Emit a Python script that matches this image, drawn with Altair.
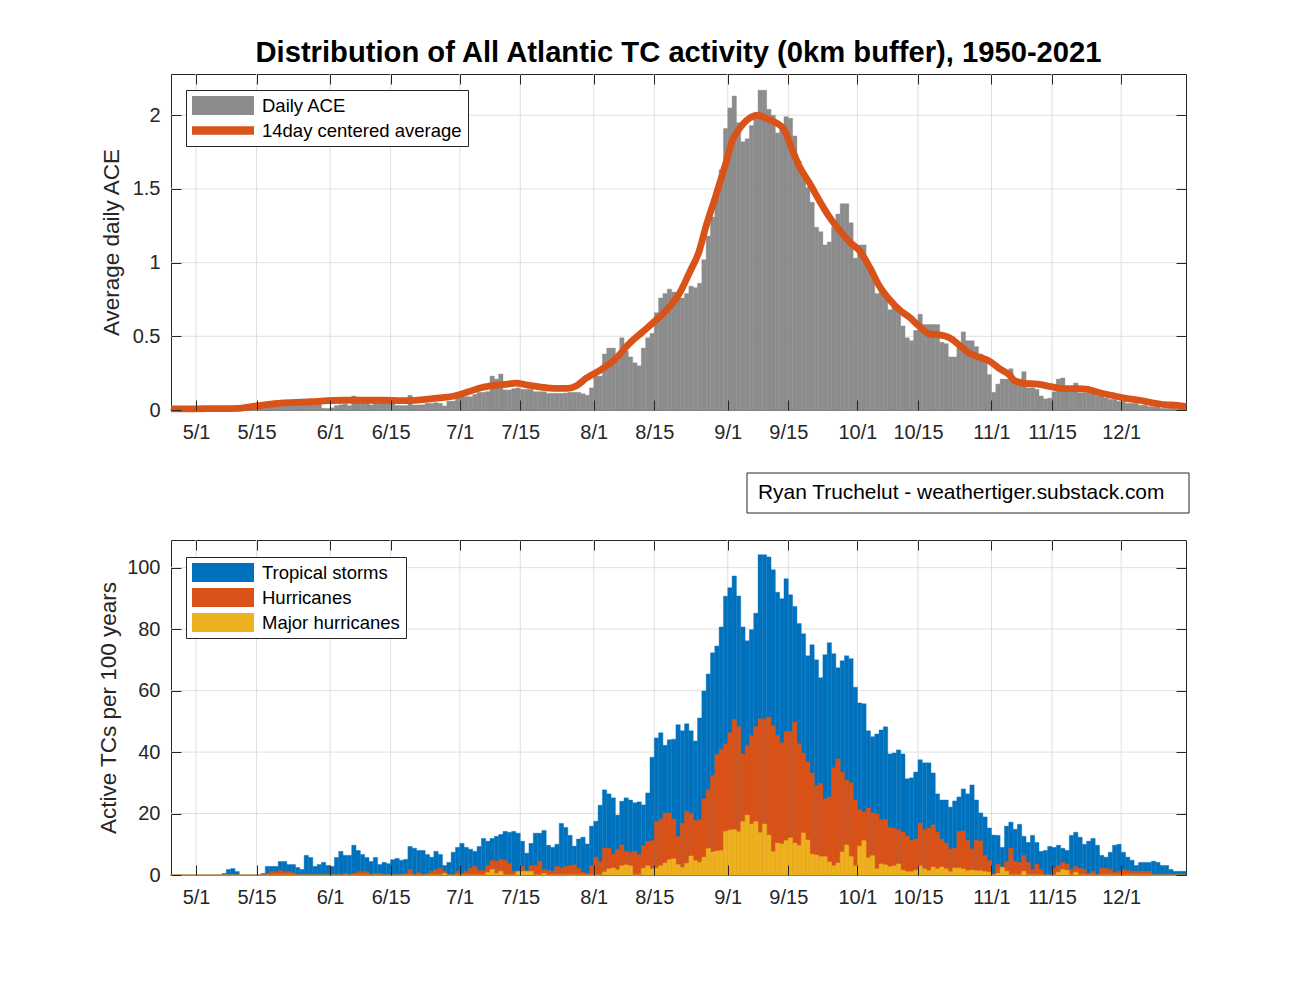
import altair as alt
import pandas as pd

FONT = "Liberation Sans"
INK = "#262626"
GRAY = "#8C8C8C"
BLUE = "#0072BD"
ORANGE = "#D95319"
YELLOW = "#EDB120"
GRID = "#DFDFDF"

TITLE = "Distribution of All Atlantic TC activity (0km buffer), 1950-2021"
CREDIT = "Ryan Truchelut - weathertiger.substack.com"

# first day-of-year of the daily bars (4/25)
first_doy = 115

# daily ACE, one value per day starting at first_doy (rows of 10 days)
ace = [
    0.005, 0.004, 0.006, 0.005, 0.003, 0.006, 0.008, 0.007, 0.010, 0.008,
    0.006, 0.010, 0.012, 0.015, 0.012, 0.008, 0.010, 0.015, 0.025, 0.030,
    0.035, 0.030, 0.040, 0.045, 0.060, 0.050, 0.055, 0.045, 0.050, 0.060,
    0.055, 0.070, 0.065, 0.050, 0.040, 0.012, 0.010, 0.015, 0.030, 0.035,
    0.040, 0.030, 0.095, 0.060, 0.075, 0.070, 0.035, 0.050, 0.065, 0.070,
    0.060, 0.050, 0.030, 0.030, 0.030, 0.100, 0.034, 0.034, 0.035, 0.045,
    0.045, 0.050, 0.045, 0.027, 0.060, 0.060, 0.085, 0.090, 0.090, 0.090,
    0.106, 0.120, 0.120, 0.125, 0.230, 0.210, 0.244, 0.136, 0.136, 0.145,
    0.150, 0.140, 0.140, 0.140, 0.124, 0.124, 0.124, 0.113, 0.113, 0.113,
    0.113, 0.115, 0.120, 0.120, 0.120, 0.110, 0.100, 0.150, 0.230, 0.230,
    0.38, 0.42, 0.42, 0.34, 0.49, 0.40, 0.36, 0.32, 0.30, 0.42,
    0.49, 0.52, 0.66, 0.76, 0.79, 0.82, 0.80, 0.76, 0.76, 0.79,
    0.84, 0.83, 0.86, 1.02, 1.18, 1.31, 1.50, 1.63, 1.91, 2.05,
    2.13, 1.95, 1.82, 1.84, 1.93, 2.01, 2.17, 2.17, 2.04, 2.00,
    1.88, 1.92, 1.99, 1.98, 1.86, 1.69, 1.58, 1.51, 1.41, 1.24,
    1.21, 1.12, 1.14, 1.24, 1.33, 1.40, 1.40, 1.27, 1.03, 1.12,
    1.12, 0.97, 0.93, 0.79, 0.82, 0.78, 0.68, 0.70, 0.68, 0.57,
    0.49, 0.47, 0.54, 0.65, 0.58, 0.58, 0.58, 0.58, 0.46, 0.45,
    0.36, 0.36, 0.45, 0.53, 0.47, 0.47, 0.43, 0.38, 0.34, 0.24,
    0.12, 0.176, 0.21, 0.21, 0.28, 0.21, 0.21, 0.26, 0.15, 0.15,
    0.14, 0.095, 0.075, 0.08, 0.124, 0.21, 0.217, 0.122, 0.122, 0.183,
    0.117, 0.117, 0.117, 0.108, 0.097, 0.097, 0.081, 0.072, 0.072, 0.059,
    0.059, 0.045, 0.045, 0.045, 0.032, 0.032, 0.023, 0.023, 0.023, 0.011,
    0.011, 0.011, 0.011, 0.011, 0.011,
]

# 14-day centered average (day-of-year, value)
avg_doy = [115.2, 119, 123, 127, 131, 133, 135.3, 138.3, 143, 147.6, 151.5, 155.3,
           160, 164.6, 168.4, 171.5, 176.1, 180.7, 183.8, 186.9, 190, 193.1, 195,
           197.7, 200.8, 203.9, 207, 208.9, 211.2, 215, 218.1, 221.2, 224.3, 227.4,
           230.5, 232.8, 235.1, 237.4, 238.9, 241.2, 243.6, 245.1, 246.7, 249,
           250.9, 252.8, 255.1, 257.1, 259, 260.6, 262.9, 265.2, 267.5, 269.8,
           272.2, 274.5, 276.8, 279.1, 281.4, 283.7, 286, 288.4, 290.7, 293,
           295.3, 297.6, 299.9, 302.3, 304.6, 306.9, 309.2, 310.3, 312.6, 315.7,
           318.8, 321.9, 325, 327.3, 329.6, 332.7, 335.8, 338.9, 342, 345.1,
           348.1, 350]
avg_ace = [0.007, 0.007, 0.009, 0.009, 0.011, 0.02, 0.029, 0.04, 0.05, 0.056, 0.063, 0.066,
           0.066, 0.066, 0.063, 0.066, 0.079, 0.095, 0.122, 0.151, 0.167, 0.176, 0.183,
           0.169, 0.156, 0.147, 0.147, 0.163, 0.215, 0.28, 0.35, 0.45, 0.53, 0.61,
           0.70, 0.79, 0.93, 1.08, 1.24, 1.45, 1.68, 1.83, 1.91, 1.98,
           2.00, 1.98, 1.95, 1.90, 1.76, 1.65, 1.54, 1.42, 1.31, 1.22,
           1.14, 1.08, 0.97, 0.84, 0.75, 0.68, 0.63, 0.565, 0.515, 0.51,
           0.49, 0.44, 0.385, 0.357, 0.33, 0.28, 0.237, 0.20, 0.18, 0.176,
           0.158, 0.145, 0.145, 0.14, 0.12, 0.10, 0.081, 0.068, 0.05, 0.036,
           0.032, 0.023]

# active TCs per 100 years, same days as ace
tropical_storms = [
    0, 0, 0, 0, 0, 0, 0, 0, 0, 0,
    0, 0, 0.5, 1.8, 2.1, 1.1, 0, 0, 0, 0,
    0, 0.5, 2.8, 2.8, 2.8, 4.4, 4.4, 3.4, 3.4, 2.4,
    1.8, 6.4, 5.7, 2.8, 3.4, 4.1, 3.1, 2.8, 5.7, 7.7,
    6.4, 6.4, 9.7, 8.0, 6.7, 5.7, 4.4, 5.7, 3.4, 4.1,
    3.7, 5.0, 5.4, 4.8, 5.1, 9.3, 8.7, 8.0, 8.0, 6.7,
    5.8, 7.7, 6.7, 3.1, 4.1, 7.4, 9.0, 10.3, 9.0, 8.4,
    7.7, 9.3, 11.9, 11.0, 11.9, 12.6, 13.2, 14.2, 13.9, 14.2,
    13.6, 11.0, 7.1, 10.3, 13.6, 13.6, 14.5, 9.7, 9.0, 10.0,
    16.8, 15.5, 12.9, 9.4, 11.7, 12.3, 10.1, 15.9, 17.5, 22.7,
    27.7, 26.4, 25.1, 19.5, 24.0, 25.1, 24.4, 23.5, 23.8, 22.8,
    26.7, 38.3, 44.6, 46.3, 42.2, 44.0, 44.2, 48.9, 46.9, 49.2,
    46.9, 43.6, 51.1, 59.9, 65.4, 72.3, 74.5, 80.7, 90.7, 93.5,
    97.3, 90.8, 80.7, 76.2, 79.8, 85.2, 104.2, 104.2, 103.5, 99.3,
    92.0, 89.9, 96.4, 91.2, 87.4, 81.8, 78.5, 71.3, 74.9, 70.0,
    64.2, 71.7, 75.6, 72.0, 67.4, 69.7, 71.3, 70.4, 61.1, 56.0,
    55.7, 46.9, 45.0, 45.9, 47.2, 48.2, 39.4, 39.7, 40.7, 39.4,
    31.3, 31.6, 33.5, 37.5, 36.5, 36.5, 33.2, 26.4, 24.4, 24.4,
    22.1, 24.1, 25.4, 28.0, 26.4, 29.3, 24.4, 20.2, 18.9, 15.3,
    13.0, 12.9, 9.0, 15.9, 17.2, 14.9, 16.5, 12.6, 10.6, 12.9,
    10.6, 7.7, 8.0, 9.3, 9.0, 9.7, 8.7, 8.0, 12.9, 13.9,
    12.3, 10.0, 11.0, 11.9, 9.7, 6.4, 5.8, 7.4, 9.7, 10.0,
    7.4, 5.8, 4.8, 3.1, 4.1, 4.1, 4.1, 4.5, 4.1, 3.1,
    3.1, 1.8, 1.2, 1.2, 1.2,
]
hurricanes = [
    0, 0, 0, 0, 0, 0, 0, 0, 0, 0,
    0, 0, 0, 0, 0, 0, 0, 0, 0, 0,
    0, 0, 0.5, 1.1, 1.1, 1.4, 1.1, 1.1, 0.7, 0,
    0, 0, 0, 0, 0, 0, 0, 0, 0, 0,
    0.5, 0, 0.5, 1.1, 1.1, 1.1, 0, 0.5, 0.5, 0,
    0, 0, 0, 0, 0.5, 1.8, 0, 0.8, 0, 0.5,
    1.2, 1.8, 2.2, 1.2, 0, 0, 1.2, 0.5, 1.2, 2.2,
    2.8, 1.5, 1.5, 3.1, 4.8, 4.5, 5.1, 4.8, 3.8, 1.2,
    0.8, 2.8, 1.2, 3.1, 3.1, 4.5, 1.8, 1.5, 1.2, 2.8,
    2.2, 2.8, 3.0, 3.3, 2.2, 0.9, 0.5, 3.0, 5.8, 4.3,
    8.8, 8.8, 6.8, 8.3, 9.8, 7.7, 7.4, 7.7, 6.6, 9.6,
    10.9, 11.2, 17.4, 18.2, 20.2, 20.2, 18.2, 12.5, 16.9, 20.7,
    20.1, 17.7, 18.0, 24.8, 27.8, 32.4, 39.2, 41.0, 42.7, 46.3,
    50.6, 48.3, 39.4, 42.1, 45.4, 48.3, 50.8, 50.8, 51.4, 48.6,
    45.4, 43.0, 46.7, 46.7, 49.8, 42.7, 39.7, 36.8, 33.2, 29.1,
    29.8, 24.8, 25.4, 34.9, 37.8, 33.4, 30.9, 30.0, 24.4, 21.2,
    20.5, 21.8, 20.2, 19.9, 18.0, 18.1, 15.5, 15.2, 14.7, 14.0,
    12.7, 11.3, 11.7, 16.9, 14.8, 15.3, 16.3, 14.0, 11.7, 10.4,
    8.5, 8.8, 14.3, 14.3, 11.2, 8.5, 11.4, 11.1, 6.4, 4.7,
    0.3, 3.5, 2.6, 4.3, 8.7, 4.5, 4.1, 6.4, 4.1, 1.8,
    3.5, 1.8, 0, 0, 2.2, 3.1, 4.1, 3.5, 1.8, 2.8,
    2.2, 1.8, 0.5, 1.2, 0, 2.2, 2.2, 1.8, 0.9, 1.2,
    1.8, 1.5, 1.2, 1.2, 1.2, 1.2, 1.2, 0, 0, 0,
    0, 0, 0, 0, 0,
]
major_hurricanes = [
    0, 0, 0, 0, 0, 0, 0, 0, 0, 0,
    0, 0, 0, 0, 0, 0, 0, 0, 0, 0,
    0, 0, 0, 0, 0, 0, 0, 0, 0, 0,
    0, 0, 0, 0, 0, 0, 0, 0, 0, 0,
    0, 0, 0, 0, 0, 0, 0, 0, 0, 0,
    0, 0, 0, 0, 0, 0, 0, 0, 0, 0,
    0, 0, 0, 0.5, 0, 0, 0, 0, 0, 0,
    0, 0, 0, 0.8, 1.8, 0.5, 1.2, 0, 0, 0,
    1.2, 1.2, 1.2, 1.2, 0, 0, 0.5, 0, 0, 0,
    0, 0, 0, 0, 0, 0, 0, 0, 0, 0,
    1.0, 2.0, 2.3, 1.7, 3.0, 3.3, 3.0, 0, 0, 2.2,
    3.0, 2.0, 2.3, 3.0, 3.9, 5.0, 5.3, 3.4, 2.5, 3.8,
    6.2, 4.7, 4.1, 5.8, 8.6, 7.5, 7.8, 8.0, 14.2, 14.6,
    14.8, 14.1, 17.4, 19.5, 16.6, 17.4, 13.8, 16.6, 13.0, 7.6,
    10.4, 10.1, 11.2, 12.1, 10.4, 9.6, 13.7, 11.4, 6.8, 6.5,
    6.0, 6.0, 4.3, 3.0, 3.9, 7.5, 9.8, 6.0, 3.0, 9.4,
    11.2, 5.6, 6.3, 2.0, 3.6, 3.3, 2.7, 3.0, 3.6, 1.6,
    1.1, 1.1, 1.6, 3.0, 2.0, 1.4, 2.6, 2.0, 2.6, 2.0,
    1.1, 2.3, 2.3, 2.0, 1.4, 1.6, 1.4, 1.4, 1.1, 0.9,
    0, 0.5, 2.5, 1.2, 0, 0, 0, 1.2, 0, 0,
    0, 0, 0, 0, 0, 0.9, 1.8, 1.5, 0, 0.9,
    0, 0, 0, 0, 0, 0, 0, 0, 0, 0,
    0, 0, 0, 0, 0, 0, 0, 0, 0, 0,
    0, 0, 0, 0, 0,
]

tick_doy = [121, 135, 152, 166, 182, 196, 213, 227, 244, 258, 274, 288, 305, 319, 335]
tick_lab = ["5/1", "5/15", "6/1", "6/15", "7/1", "7/15", "8/1", "8/15", "9/1", "9/15",
            "10/1", "10/15", "11/1", "11/15", "12/1"]
ytick_top = [0, 0.5, 1, 1.5, 2]
ytick_bot = [0, 20, 40, 60, 80, 100]

top_legend = ["Daily ACE", "14day centered average"]
bot_legend = ["Tropical storms", "Hurricanes", "Major hurricanes"]

n = len(ace)
assert all(len(a) == n for a in (tropical_storms, hurricanes, major_hurricanes))
assert len(avg_doy) == len(avg_ace)
days = list(range(first_doy, first_doy + n))
bars = pd.DataFrame({
    "doy": days, "doy_end": [d + 1 for d in days], "ace": ace,
    "ts": tropical_storms, "hu": hurricanes, "mh": major_hurricanes,
})
avg = pd.DataFrame({"doy": avg_doy, "ace": avg_ace})

label_expr = " : ".join(f"datum.value == {d} ? '{l}'" for d, l in zip(tick_doy, tick_lab)) + " : ''"

W = 1015
H_TOP = 336
H_BOT = 335
LBL = 20
xscale = alt.Scale(domain=[115.2, 350.0], nice=False, zero=False)
ytop = alt.Scale(domain=[0, 2.28], nice=False, zero=True)
ybot = alt.Scale(domain=[0, 109], nice=False, zero=True)

RECT = "M-1,-0.31H1V0.31H-1Z"
LINE = "M-1,-0.14H1V0.14H-1Z"


def tick_axis(orient, values, labels=False, expr=None, fmt=None, pad=10,
              title=None, title_pad=9):
    kw = dict(orient=orient, values=values, offset=-10, tickSize=10, tickColor=INK,
              tickWidth=1, domain=False, grid=False, zindex=1, labels=labels)
    if not labels:
        kw["minExtent"] = 0
    if labels:
        kw.update(labelFont=FONT, labelFontSize=LBL, labelColor=INK, labelPadding=pad,
                  labelOverlap=False, labelFlush=False)
        if expr:
            kw["labelExpr"] = expr
        if fmt:
            kw["format"] = fmt
    if title:
        kw.update(title=title, titleFont=FONT, titleFontSize=22.5, titleFontWeight="normal",
                  titleColor=INK, titlePadding=title_pad)
    return alt.Axis(**kw)


def legend(x, y, **extra):
    return alt.Legend(title=None, orient="none", legendX=x, legendY=y, direction="vertical",
                      fillColor="white", strokeColor=INK, padding=6, rowPadding=6,
                      clipHeight=19, symbolSize=3844, symbolStrokeWidth=0, symbolOpacity=1,
                      labelFont=FONT, labelFontSize=18.5, labelColor="#000", labelOffset=8,
                      labelLimit=400, **extra)


def grids(yvals, yscale):
    gx = alt.Chart(pd.DataFrame({"g": tick_doy})).mark_rule(color=GRID, strokeWidth=1).encode(
        x=alt.X("g:Q", scale=xscale, axis=None))
    gy = alt.Chart(pd.DataFrame({"gv": yvals})).mark_rule(color=GRID, strokeWidth=1).encode(
        y=alt.Y("gv:Q", scale=yscale, axis=None))
    return gx, gy


# ---------- top panel ----------
gx1, gy1 = grids(ytick_top, ytop)
ace_bars = alt.Chart(bars).mark_rect(color=GRAY, stroke=GRAY, strokeWidth=0.4).encode(
    x=alt.X("doy:Q", scale=xscale, axis=tick_axis("bottom", tick_doy, True, expr=label_expr, pad=12), title=None),
    x2="doy_end:Q",
    y=alt.Y("ace:Q", scale=ytop, axis=tick_axis("left", ytick_top, True, fmt="~g", pad=11,
                                                title="Average daily ACE", title_pad=9)),
    y2=alt.datum(0),
)
ace_line = alt.Chart(avg).mark_line(color=ORANGE, strokeWidth=6.8, interpolate="monotone").encode(
    x=alt.X("doy:Q", scale=xscale, axis=tick_axis("top", tick_doy), title=None),
    y=alt.Y("ace:Q", scale=ytop, axis=tick_axis("right", ytick_top), title=None),
)
top_leg = legend(15, 16)
top_key = alt.Chart(pd.DataFrame({"s": top_legend})).mark_point(filled=True, opacity=0).encode(
    color=alt.Color("s:N", scale=alt.Scale(domain=top_legend, range=[GRAY, ORANGE]), legend=top_leg),
    shape=alt.Shape("s:N", scale=alt.Scale(domain=top_legend, range=[RECT, LINE]), legend=top_leg),
)
credit_df = pd.DataFrame({"t": [CREDIT]})
credit_box = alt.Chart(credit_df).mark_rect(fill="white", stroke=INK, strokeWidth=1).encode(
    x=alt.value(576), x2=alt.value(1018), y=alt.value(399), y2=alt.value(439))
credit_txt = alt.Chart(credit_df).mark_text(align="left", baseline="middle", font=FONT,
                                            fontSize=20.9, color="#000").encode(
    x=alt.value(587), y=alt.value(419), text="t:N")

top = alt.layer(gx1, gy1, ace_bars, ace_line, top_key, credit_box, credit_txt).properties(
    width=W, height=H_TOP,
    title=alt.TitleParams(text=TITLE, font=FONT, fontSize=29.2, fontWeight="bold", color="#000",
                          anchor="middle", frame="group", baseline="bottom", offset=-24),
).resolve_axis(x="independent", y="independent")

# ---------- bottom panel ----------
gx2, gy2 = grids(ytick_bot, ybot)
ts_bars = alt.Chart(bars).mark_rect(color=BLUE, stroke=BLUE, strokeWidth=0.4).encode(
    x=alt.X("doy:Q", scale=xscale, axis=tick_axis("bottom", tick_doy, True, expr=label_expr, pad=12), title=None),
    x2="doy_end:Q",
    y=alt.Y("ts:Q", scale=ybot, axis=tick_axis("left", ytick_bot, True, pad=11,
                                               title="Active TCs per 100 years", title_pad=6)),
    y2=alt.datum(0),
)
hu_bars = alt.Chart(bars).mark_rect(color=ORANGE, stroke=ORANGE, strokeWidth=0.4).encode(
    x=alt.X("doy:Q", scale=xscale, axis=tick_axis("top", tick_doy), title=None),
    x2="doy_end:Q",
    y=alt.Y("hu:Q", scale=ybot, axis=tick_axis("right", ytick_bot), title=None),
    y2=alt.datum(0),
)
mh_bars = alt.Chart(bars).mark_rect(color=YELLOW, stroke=YELLOW, strokeWidth=0.4).encode(
    x=alt.X("doy:Q", scale=xscale, axis=None),
    x2="doy_end:Q",
    y=alt.Y("mh:Q", scale=ybot, axis=None),
    y2=alt.datum(0),
)
bot_key = alt.Chart(pd.DataFrame({"s": bot_legend})).mark_point(filled=True, opacity=0, shape=RECT).encode(
    color=alt.Color("s:N", scale=alt.Scale(domain=bot_legend, range=[BLUE, ORANGE, YELLOW]),
                    legend=legend(15, 17, symbolType=RECT)),
)

bottom = alt.layer(gx2, gy2, ts_bars, hu_bars, mh_bars, bot_key).properties(
    width=W, height=H_BOT,
).resolve_axis(x="independent", y="independent")

chart = alt.vconcat(top, bottom, spacing=25).resolve_scale(
    color="independent", shape="independent"
).properties(
    padding={"left": 89, "top": 30, "right": 10, "bottom": 10},
    background="white",
).configure_view(stroke=INK, strokeWidth=1)

chart.save("out.html", embed_options={"renderer": "svg", "actions": False})
